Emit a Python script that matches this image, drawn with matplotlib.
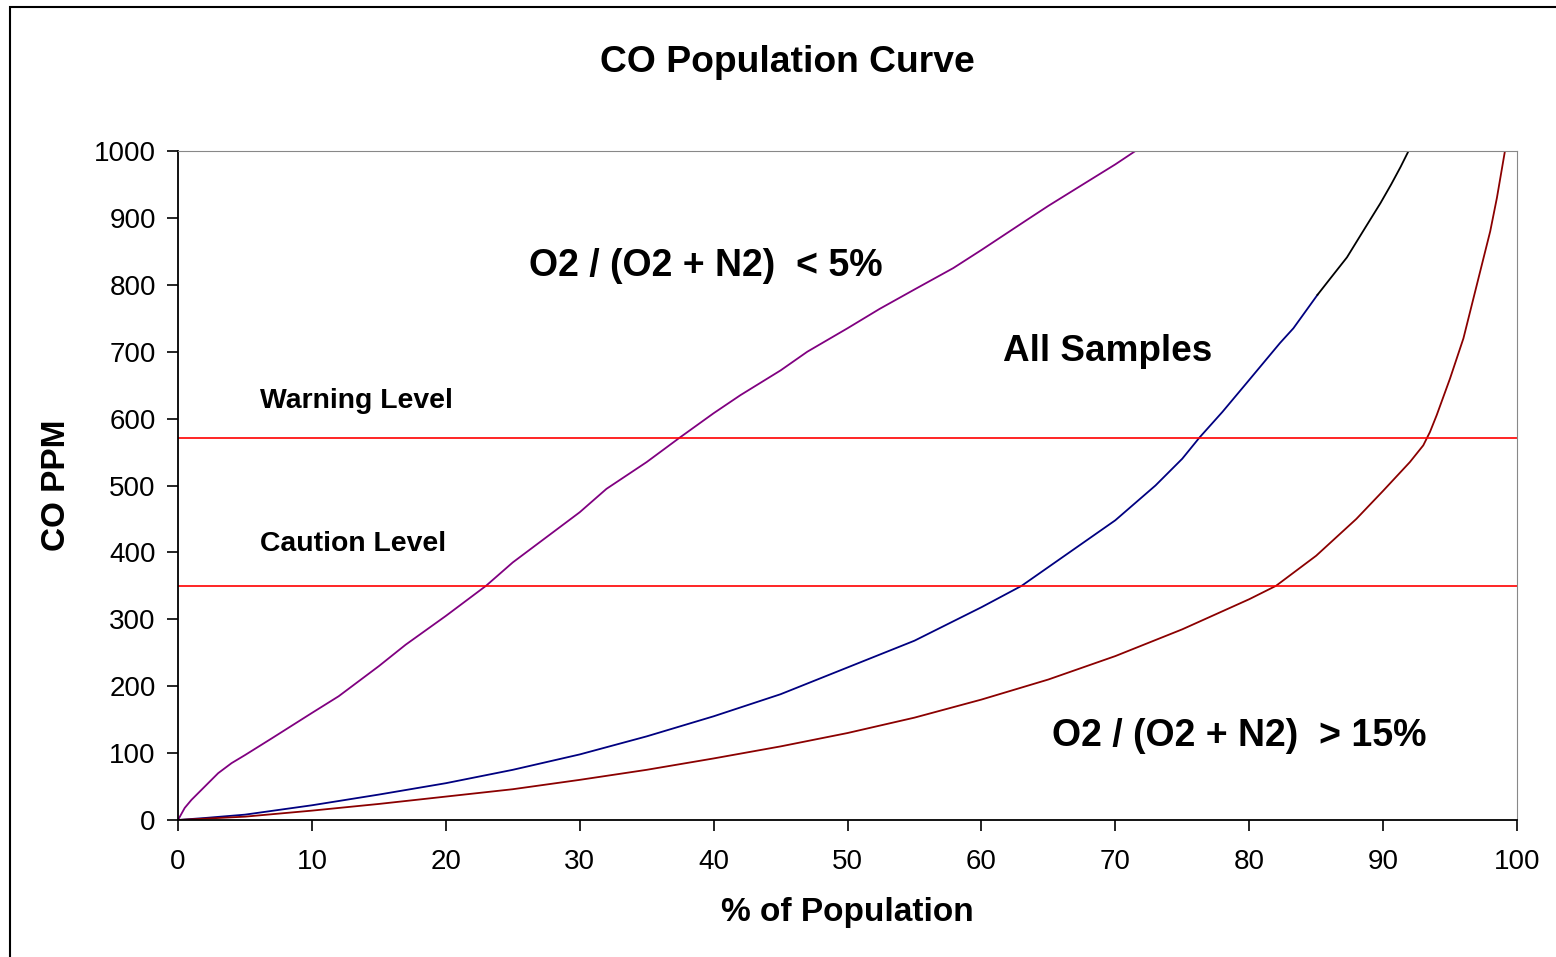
import numpy as np
import matplotlib.pyplot as plt
from matplotlib.patches import Rectangle

plt.rcParams['font.family'] = ['Liberation Sans', 'DejaVu Sans']

# O2/(O2+N2) < 5%
low_x = [0, 0.5, 1, 2, 3, 4, 5, 7, 10, 12, 15, 17, 20, 23, 25, 27, 30, 32, 35, 37.5,
         40, 42, 45, 47, 50, 52.4, 55, 57.9, 60, 63.4, 65, 67.9, 70, 71.5]
low_y = [0, 18, 30, 50, 70, 85, 97, 122, 160, 185, 230, 262, 305, 350, 385, 415, 460, 495, 535, 572,
         608, 635, 672, 700, 735, 764, 793, 825, 852, 897, 918, 954, 980, 1000]

# all samples (blue part, then black part near the top)
all_x = [0, 2, 5, 10, 15, 20, 25, 30, 35, 40, 45, 50, 55, 60, 63, 65, 68, 70, 73,
         75, 76.3, 78, 79.8, 82.3, 83.3, 85.1]
all_y = [0, 3, 8, 22, 38, 55, 75, 98, 125, 155, 188, 228, 268, 318, 350, 378, 420, 448, 500,
         540, 572, 610, 653, 713, 735, 785]
all_top_x = [85.1, 86, 87.3, 88.5, 89.8, 90.6, 91.3, 91.9]
all_top_y = [785, 808, 841, 880, 922, 950, 976, 1000]

# O2/(O2+N2) > 15%
high_x = [0, 2, 5, 10, 15, 20, 25, 30, 35, 40, 45, 50, 55, 60, 65, 70, 75, 80, 82,
          85, 88, 90, 92, 93, 93.5, 94, 95, 96, 97, 98, 98.5, 99.1]
high_y = [0, 2, 5, 14, 24, 35, 46, 60, 75, 92, 110, 130, 153, 180, 210, 245, 285, 330, 350,
          395, 450, 492, 535, 560, 580, 605, 660, 720, 800, 880, 930, 1000]

warning_level = 571
caution_level = 350

fig = plt.figure(figsize=(15.56, 9.57), dpi=100)
ax = fig.add_axes([178 / 1556, 1 - 820 / 957, (1517 - 178) / 1556, (820 - 151) / 957])

ax.plot(low_x, low_y, color='#800080', lw=1.3)
ax.plot(all_x, all_y, color='#000080', lw=1.3)
ax.plot(all_top_x, all_top_y, color='black', lw=1.3)
ax.plot(high_x, high_y, color='#8B0000', lw=1.3)
ax.axhline(warning_level, color='red', lw=1.2)
ax.axhline(caution_level, color='red', lw=1.2)

ax.set_xlim(0, 100)
ax.set_ylim(0, 1000)
ax.set_xticks(np.arange(0, 101, 10))
ax.set_yticks(np.arange(0, 1001, 100))
ax.tick_params(labelsize=20, direction='out', length=8, width=1.2)
ax.tick_params(axis='y', pad=8)
ax.tick_params(axis='x', pad=13)
for s in ['top', 'right']:
    ax.spines[s].set_color('#888888')
for s in ['left', 'bottom']:
    ax.spines[s].set_linewidth(1.3)

ax.set_xlabel('% of Population', fontsize=24, fontweight='bold', labelpad=16)
ax.set_ylabel('CO PPM', fontsize=24, fontweight='bold', labelpad=16)
fig.text(787 / 1556, 1 - 62 / 957, 'CO Population Curve', fontsize=26.8, fontweight='bold',
         ha='center', va='center')

ax.text(26.2, 828, 'O2 / (O2 + N2)  < 5%', fontsize=27, fontweight='bold', va='center')
ax.text(61.6, 700, 'All Samples', fontsize=26.6, fontweight='bold', va='center')
ax.text(65.3, 126, 'O2 / (O2 + N2)  > 15%', fontsize=27, fontweight='bold', va='center')
ax.text(6.1, 627, 'Warning Level', fontsize=20.4, fontweight='bold', va='center')
ax.text(6.1, 413, 'Caution Level', fontsize=20.4, fontweight='bold', va='center')

# outer chart border (cut off at right and bottom)
fig.patches.append(Rectangle((10 / 1556, -0.05), 1.1, 1 - 7 / 957 + 0.05, transform=fig.transFigure,
                             fill=False, edgecolor='black', lw=1.5))

fig.savefig('out.png', dpi=100)
